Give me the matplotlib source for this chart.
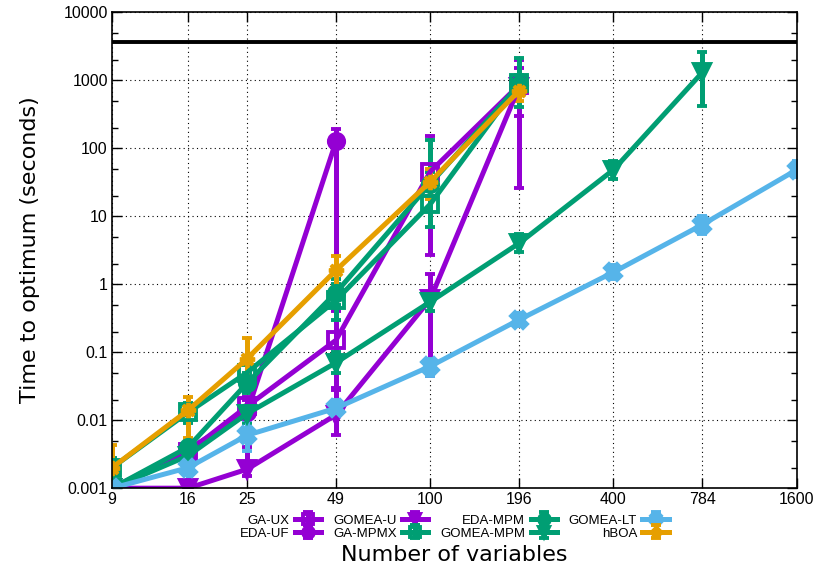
import matplotlib
matplotlib.use('Agg')
import matplotlib.pyplot as plt
from matplotlib.ticker import FixedLocator, NullFormatter, LogLocator
import numpy as np

plt.rcParams['font.family'] = ['Liberation Sans', 'DejaVu Sans']

n_vars = [9, 16, 25, 49, 100, 196, 400, 784, 1600]

# median time to optimum, with lower / upper error bar ends
ga_ux = [0.001, 0.0034, 0.016, 0.15, 45, 850]
ga_ux_lo = [0.001, 0.0028, 0.012, 0.028, 2.7, 300]
ga_ux_hi = [0.001, 0.0045, 0.022, 0.5, 150, 1500]

eda_uf = [0.001, 0.0037, 0.013, 125]
eda_uf_lo = [0.001, 0.003, 0.010, 0.4]
eda_uf_hi = [0.001, 0.0045, 0.02, 190]

gomea_u = [0.001, 0.001, 0.0019, 0.012, 0.6, 800]
gomea_u_lo = [0.001, 0.001, 0.0015, 0.006, 0.045, 26]
gomea_u_hi = [0.001, 0.0011, 0.004, 0.03, 1.4, 2000]

ga_mpmx = [0.002, 0.013, 0.05, 0.58, 15, 900]
ga_mpmx_lo = [0.0015, 0.009, 0.03, 0.3, 7, 400]
ga_mpmx_hi = [0.0028, 0.018, 0.08, 1.2, 130, 2100]

eda_mpm = [0.001, 0.004, 0.035, 0.75, 30, 850]
eda_mpm_lo = [0.001, 0.003, 0.025, 0.5, 20, 600]
eda_mpm_hi = [0.0012, 0.005, 0.05, 1.0, 45, 1200]

gomea_mpm = [0.001, 0.003, 0.0125, 0.07, 0.55, 4, 48, 1300]
gomea_mpm_lo = [0.001, 0.0022, 0.009, 0.05, 0.4, 3, 35, 420]
gomea_mpm_hi = [0.0012, 0.004, 0.016, 0.1, 0.75, 5.5, 65, 2600]

gomea_lt = [0.001, 0.002, 0.006, 0.015, 0.062, 0.3, 1.5, 7.5, 48]
gomea_lt_lo = [0.001, 0.001, 0.0035, 0.012, 0.045, 0.24, 1.2, 5.5, 38]
gomea_lt_hi = [0.0012, 0.005, 0.01, 0.02, 0.08, 0.38, 1.9, 10, 65]

hboa = [0.002, 0.014, 0.08, 1.6, 32, 700]
hboa_lo = [0.001, 0.0055, 0.04, 0.9, 18, 500]
hboa_hi = [0.0043, 0.022, 0.16, 2.6, 50, 900]

time_limit = 3600

purple = '#9400d3'
green = '#009e73'
blue = '#56b4e9'
orange = '#e69f00'

series = [
    ('GA-UX', ga_ux, ga_ux_lo, ga_ux_hi, purple, 's', 'none'),
    ('EDA-UF', eda_uf, eda_uf_lo, eda_uf_hi, purple, 'o', purple),
    ('GOMEA-U', gomea_u, gomea_u_lo, gomea_u_hi, purple, 'v', purple),
    ('GA-MPMX', ga_mpmx, ga_mpmx_lo, ga_mpmx_hi, green, 's', 'none'),
    ('EDA-MPM', eda_mpm, eda_mpm_lo, eda_mpm_hi, green, 'o', green),
    ('GOMEA-MPM', gomea_mpm, gomea_mpm_lo, gomea_mpm_hi, green, 'v', green),
    ('GOMEA-LT', gomea_lt, gomea_lt_lo, gomea_lt_hi, blue, 'X', blue),
    ('hBOA', hboa, hboa_lo, hboa_hi, orange, (8, 2, 0), orange),
]

fig = plt.figure(figsize=(8.36, 5.73), dpi=100)
ax = fig.add_axes([0.134, 0.148, 0.819, 0.831])

for name, vals, lo, hi, col, mk, fc in series:
    v = np.array(vals)
    xs = n_vars[:len(v)]
    yerr = [v - np.array(lo), np.array(hi) - v]
    ax.errorbar(xs, v, yerr=yerr, color=col, lw=3.6, marker=mk, ms=11,
                mfc=fc, mec=col, mew=2.8, elinewidth=3.6, capsize=3.5,
                capthick=3.6, label=name)

ax.axhline(time_limit, color='black', lw=2.8, zorder=5)

ax.set_xscale('log')
ax.set_yscale('log')
ax.set_xlim(9, 1600)
ax.set_ylim(0.001, 10000)

ax.xaxis.set_major_locator(FixedLocator(n_vars))
ax.set_xticklabels([str(v) for v in n_vars])
ax.xaxis.set_minor_locator(FixedLocator([]))
ax.set_yticks([0.001, 0.01, 0.1, 1, 10, 100, 1000, 10000])
ax.set_yticklabels(['0.001', '0.01', '0.1', '1', '10', '100', '1000', '10000'])
ax.yaxis.set_minor_locator(LogLocator(base=10, subs=(2, 5)))
ax.yaxis.set_minor_formatter(NullFormatter())

ax.tick_params(which='both', direction='in', top=True, right=True, labelsize=11.5)
ax.tick_params(which='major', length=7, width=1, pad=3)
ax.tick_params(which='minor', length=4, width=1)
ax.grid(True, which='major', color='black', ls=(0, (1, 3)), lw=0.8)
for s in ax.spines.values():
    s.set_linewidth(1.2)

ax.set_xlabel('Number of variables', fontsize=16, family='DejaVu Sans')
ax.xaxis.set_label_coords(0.5, -0.14)
ax.xaxis.label.set_va('center')
ax.set_ylabel('Time to optimum (seconds)', fontsize=16, family='DejaVu Sans')
ax.yaxis.set_label_coords(-0.12, 0.5)
ax.yaxis.label.set_va('center')

ax.legend(loc='upper center', bbox_to_anchor=(0.5, -0.04), ncol=4, frameon=False,
          markerfirst=False, fontsize=9.5, handlelength=2.0, columnspacing=0.9,
          labelspacing=0.0, handletextpad=0.4, borderpad=0, markerscale=0.7,
          handleheight=0.9)

fig.savefig('out.png', dpi=100)
